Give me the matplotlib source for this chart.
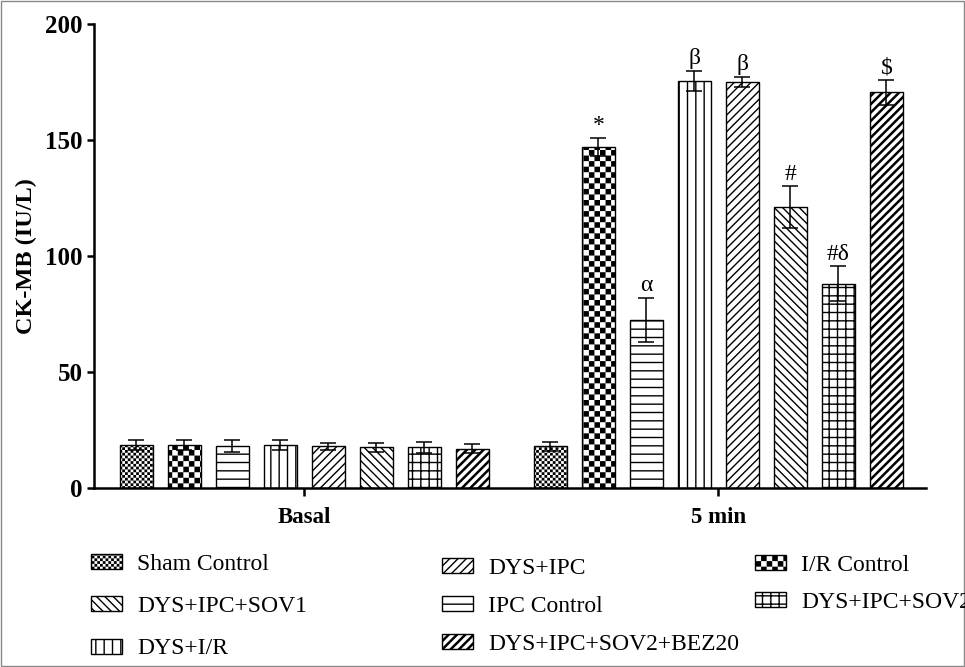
import numpy as np
import matplotlib
matplotlib.use("Agg")
import matplotlib.pyplot as plt
from matplotlib import hatch as mhatch
from matplotlib.path import Path
from matplotlib.patches import Patch, Rectangle

# data
groups = ["Basal", "5 min"]
labels = ["Sham Control", "I/R Control", "IPC Control", "DYS+I/R",
          "DYS+IPC", "DYS+IPC+SOV1", "DYS+IPC+SOV2", "DYS+IPC+SOV2+BEZ20"]
basal_mean = [18.5, 18.5, 18, 18.5, 18, 17.5, 17.5, 17]
basal_err = [2, 2, 2.5, 2, 1.5, 2, 2.5, 2]
min5_mean = [18, 147, 72.5, 175.5, 175, 121, 88, 170.5]
min5_err = [2, 4, 9.5, 4.3, 2.3, 9, 7.5, 5.5]
min5_marks = ["", "*", "α", "β", "β", "#", "#δ", "$"]

# '*' hatch -> filled checkerboard (replaces matplotlib's star hatch)
class CheckerHatch(mhatch.HatchPatternBase):
    def __init__(self, hatch, density):
        self.num_cells = int(hatch.count("*") * density)
        n = self.num_cells
        self.num_vertices = 5 * ((n * n + 1) // 2) if n else 0

    def set_vertices_and_codes(self, vertices, codes):
        n = self.num_cells
        s = 1.0 / n
        d = 0.007
        sq = np.array([[d, d], [s - d, d], [s - d, s - d], [d, s - d], [d, d]])
        cc = [Path.MOVETO, Path.LINETO, Path.LINETO, Path.LINETO, Path.CLOSEPOLY]
        k = 0
        for i in range(n):
            for j in range(n):
                if (i + j) % 2 == 0:
                    vertices[k:k + 5] = sq + [i * s, j * s]
                    codes[k:k + 5] = cc
                    k += 5

mhatch._hatch_types = [t for t in mhatch._hatch_types if t is not mhatch.Stars] + [CheckerHatch]

hatches = ["******", "***", "--", "||", "////", "\\\\\\\\", "++", "////"]
hatch_lw = [1.0, 1.0, 1.0, 1.0, 1.0, 1.0, 1.0, 1.8]

plt.rcParams["font.family"] = "Liberation Serif"
plt.rcParams["hatch.linewidth"] = 1.0

fig = plt.figure(figsize=(9.65, 6.67), dpi=100)
ax = fig.add_axes([94 / 965, 1 - 488 / 667, 832 / 965, 464 / 667])

group_x = [0, 8.625]
offsets = np.arange(8) - 3.5
width = 0.6875

for gx, means, errs in [(group_x[0], basal_mean, basal_err), (group_x[1], min5_mean, min5_err)]:
    xs = gx + offsets
    for x, m, h, hl in zip(xs, means, hatches, hatch_lw):
        with plt.rc_context({"hatch.linewidth": hl}):
            ax.bar(x, m, width, color="white", edgecolor="black", hatch=h, lw=1.0, zorder=2)
    ax.errorbar(xs, means, yerr=errs, fmt="none", ecolor="black", elinewidth=1.1,
                capsize=5.5, capthick=1.1, zorder=3)

for x, m, e, t in zip(group_x[1] + offsets, min5_mean, min5_err, min5_marks):
    if t:
        ax.annotate(t, (x, m + e), xytext=(0, 1), textcoords="offset points",
                    ha="center", va="bottom", fontsize=17)

ax.set_xlim(-4.385, 12.95)
ax.set_ylim(0, 200)
ax.set_yticks([0, 50, 100, 150, 200])
ax.set_xticks(group_x)
ax.set_xticklabels(groups, fontsize=16.5, fontweight="bold")
for lab in ax.get_yticklabels():
    lab.set_fontsize(18)
    lab.set_fontweight("bold")
ax.set_ylabel("CK-MB (IU/L)", fontsize=17.5, fontweight="bold", labelpad=6)

for s in ["top", "right"]:
    ax.spines[s].set_visible(False)
for s in ["left", "bottom"]:
    ax.spines[s].set_linewidth(1.8)
ax.tick_params(axis="y", length=5, width=1.8, pad=3)
ax.tick_params(axis="x", length=6, width=1.8, pad=8)

# legend, three columns placed like the original
legend_cols = [["Sham Control", "DYS+IPC+SOV1", "DYS+I/R"],
               ["DYS+IPC", "IPC Control", "DYS+IPC+SOV2+BEZ20"],
               ["I/R Control", "DYS+IPC+SOV2"]]
col_pos = [(91, 554, 0.9), (442, 558, 0.71), (755, 555, 0.67)]
for names, (px, py, sp) in zip(legend_cols, col_pos):
    handles = [Patch(facecolor="white", edgecolor="black", lw=1.0,
                     hatch=hatches[labels.index(n)], label=n) for n in names]
    leg = fig.legend(handles=handles, loc="upper left", bbox_to_anchor=(px / 965, 1 - py / 667),
                     frameon=False, fontsize=17, handlelength=1.3, handleheight=0.6,
                     handletextpad=0.65, labelspacing=sp, borderpad=0, borderaxespad=0)
    for n, p in zip(names, leg.get_patches()):
        if hasattr(p, "set_hatch_linewidth"):
            p.set_hatch_linewidth(hatch_lw[labels.index(n)])

fig.patches.append(Rectangle((0.001, 0.001), 0.998, 0.998, transform=fig.transFigure,
                             fill=False, edgecolor="#888888", lw=1.0))

fig.savefig("out.png", dpi=100)
